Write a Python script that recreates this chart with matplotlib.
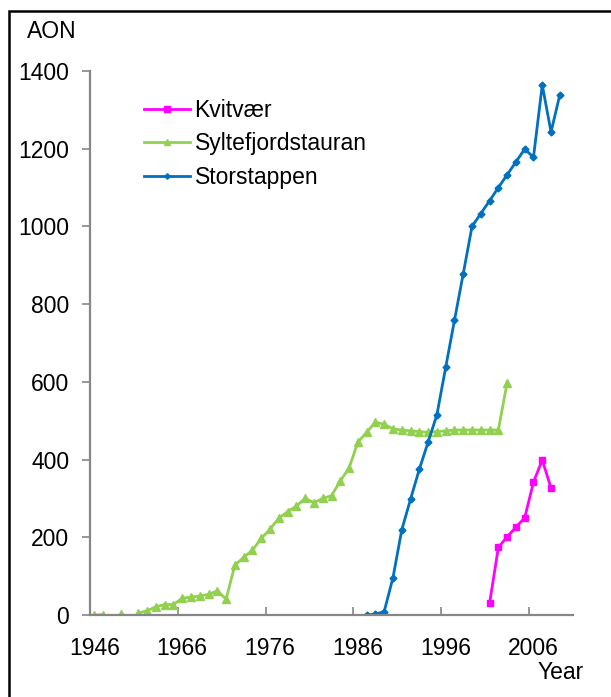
import matplotlib.pyplot as plt
import matplotlib.patches as mpatches
import numpy as np

nan = np.nan

# category axis: 55 slots, labelled every tenth slot
n_categories = 55
label_positions = [0, 10, 20, 30, 40, 50]
label_text = ['1946', '1966', '1976', '1986', '1996', '2006']

# Kvitvær starts at slot 45
kvitvaer_start = 45
kvitvaer = [30, 174, 201, 226, 250, 342, 399, 327]

# Syltefjordstauran starts at slot 0 (gaps where no count was made)
sylte_start = 0
sylte = [0, 1, nan, 3, nan, 5, 11, 21, 27, 27,
         43, 46, 49, 53, 62, 41, 129, 148, 167, 197,
         221, 249, 266, 280, 300, 289, 300, 307, 345, 378,
         445, 470, 496, 491, 479, 476, 474, 472, 470, 472,
         474, 476, 476, 476, 476, 476, 476, 598]

# Storstappen starts at slot 31
stor_start = 31
stor = [0, 2, 9, 96, 219, 298, 375, 445, 515, 637,
        758, 878, 1000, 1033, 1066, 1100, 1133, 1166, 1199, 1178,
        1364, 1243, 1339]

plt.rcParams['font.family'] = ['Liberation Sans', 'DejaVu Sans']
FS = 16.5
AXIS_GREY = '#868686'

fig = plt.figure(figsize=(6.11, 6.97), dpi=100)
ax = fig.add_axes([90 / 611, 82 / 697, 483 / 611, 544 / 697])

def plot_series(start, values, **kw):
    x = np.arange(start, start + len(values))
    ax.plot(x, np.array(values, dtype=float), **kw)

plot_series(kvitvaer_start, kvitvaer, color='#FF00FF', lw=2.0, marker='s',
            ms=5, label='Kvitvær')
plot_series(sylte_start, sylte, color='#92D050', lw=2.0, marker='^',
            ms=6, label='Syltefjordstauran')
plot_series(stor_start, stor, color='#0070C0', lw=2.0, marker='D',
            ms=3.5, label='Storstappen')

ax.set_xlim(-0.5, n_categories - 0.5)
ax.set_ylim(0, 1400)

# tick marks sit between categories, labels centred on the category
ax.set_xticks(np.arange(9.5, n_categories - 1, 10))
ax.set_xticks(label_positions, minor=True)
ax.set_xticklabels(label_text, minor=True)
ax.tick_params(axis='x', which='major', direction='in', length=6,
               width=1.2, color=AXIS_GREY, labelbottom=False)
ax.tick_params(axis='x', which='minor', length=0, pad=16, labelsize=FS)

ax.set_yticks(np.arange(0, 1401, 200))
ax.tick_params(axis='y', direction='out', length=6, width=1.2,
               color=AXIS_GREY, pad=9, labelsize=FS)

for side in ('top', 'right'):
    ax.spines[side].set_visible(False)
for side in ('left', 'bottom'):
    ax.spines[side].set_color(AXIS_GREY)
    ax.spines[side].set_linewidth(1.6)

ax.legend(loc='upper left', bbox_to_anchor=(45 / 483, 1 - 19 / 544),
          frameon=False, fontsize=FS, handlelength=2.0, handletextpad=0.2,
          labelspacing=0.45, borderaxespad=0, markerscale=0.8)

fig.text(27 / 611, 1 - 38 / 697, 'AON', fontsize=FS, va='baseline')
fig.text(538 / 611, 1 - 679 / 697, 'Year', fontsize=FS, va='baseline')

# outer frame, open at the right and bottom
fig.patches.append(mpatches.Rectangle((9 / 611, -0.05), 1.2, 1 - 11 / 697 + 0.05,
                                      transform=fig.transFigure, fill=False,
                                      edgecolor='black', lw=1.8))

fig.savefig('out.png', dpi=100)
